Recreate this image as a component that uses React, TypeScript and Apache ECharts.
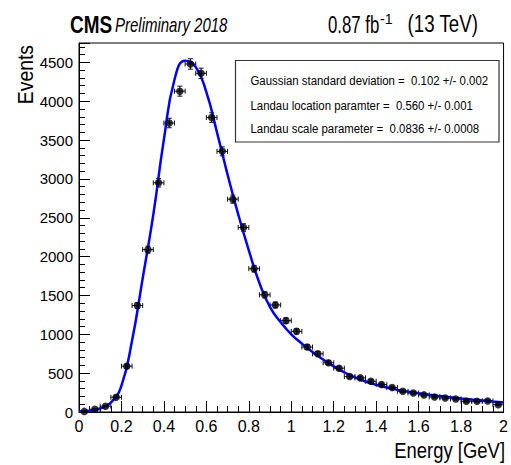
import React, { useEffect, useRef } from "react";
import * as echarts from "echarts";

// ---- data ----
const binCenters = [
  0.025, 0.075, 0.125, 0.175, 0.225, 0.275, 0.325, 0.375, 0.425, 0.475,
  0.525, 0.575, 0.625, 0.675, 0.725, 0.775, 0.825, 0.875, 0.925, 0.975,
  1.025, 1.075, 1.125, 1.175, 1.225, 1.275, 1.325, 1.375, 1.425, 1.475,
  1.525, 1.575, 1.625, 1.675, 1.725, 1.775, 1.825, 1.875, 1.925, 1.975,
];
const counts = [
  8, 35, 75, 190, 590, 1370, 2090, 2950, 3720, 4130,
  4480, 4360, 3790, 3355, 2740, 2375, 1845, 1508, 1378, 1176,
  1038, 836, 749, 633, 564, 456, 439, 395, 353, 314,
  267, 245, 220, 194, 181, 168, 138, 138, 142, 94,
];
const binHalfWidth = 0.025;

// fitted curve, every 0.05 GeV
const fitX = [
  0.0, 0.05, 0.1, 0.15, 0.2, 0.25, 0.3, 0.35, 0.4, 0.45,
  0.5, 0.55, 0.6, 0.65, 0.7, 0.75, 0.8, 0.85, 0.9, 0.95,
  1.0, 1.05, 1.1, 1.15, 1.2, 1.25, 1.3, 1.35, 1.4, 1.45,
  1.5, 1.55, 1.6, 1.65, 1.7, 1.75, 1.8, 1.85, 1.9, 1.95, 2.0,
];
const fitY = [
  5, 15, 45, 120, 340, 920, 1720, 2540, 3510, 4280,
  4520, 4440, 4117, 3600, 3055, 2545, 2080, 1660, 1350, 1155,
  1000, 880, 773, 675, 588, 510, 445, 393, 350, 315,
  285, 261, 241, 222, 205, 189, 174, 160, 147, 134, 122,
];

const statLines = [
  "Gaussian standard deviation =  0.102 +/- 0.002",
  "Landau location paramter =  0.560 +/- 0.001",
  "Landau scale parameter =  0.0836 +/- 0.0008",
];

const xTitle = "Energy [GeV]";
const yTitle = "Events";

const FONT = "'Liberation Sans', Arial, Helvetica, sans-serif";

export default function App() {
  const ref = useRef<HTMLDivElement>(null);

  useEffect(() => {
    if (!ref.current) return;
    const chart = echarts.init(ref.current, undefined, { renderer: "svg" });

    const points = binCenters.map((x, i) => [x, counts[i]]);
    const errs = binCenters.map((x, i) => [
      x,
      counts[i],
      binHalfWidth,
      Math.sqrt(counts[i]),
    ]);
    const fit = fitX.map((x, i) => [x, fitY[i]]);

    const txt = (
      text: string,
      x: number,
      y: number,
      size: number,
      sx: number,
      extra: any = {},
      align = "left"
    ) => ({
      type: "text",
      x,
      y,
      scaleX: sx,
      z: 11,
      ...(extra.rotation !== undefined ? { rotation: extra.rotation } : {}),
      style: {
        text,
        fontFamily: FONT,
        fontSize: size,
        fontWeight: extra.fontWeight || "normal",
        fontStyle: extra.fontStyle || "normal",
        fill: "#000",
        align,
        verticalAlign: "middle",
      },
    });

    const option: any = {
      animation: false,
      backgroundColor: "#ffffff",
      grid: {
        left: 79,
        right: 6.5,
        top: 43,
        bottom: 53,
        show: true,
        borderColor: "#000",
        borderWidth: 1,
        backgroundColor: "transparent",
      },
      xAxis: {
        type: "value",
        min: 0,
        max: 2,
        interval: 0.2,
        axisLine: { show: true, onZero: false, lineStyle: { color: "#000", width: 1 } },
        axisTick: { show: true, inside: true, length: 11, lineStyle: { color: "#000" } },
        minorTick: { show: true, splitNumber: 4, length: 6, lineStyle: { color: "#000" } },
        splitLine: { show: false },
        axisLabel: {
          color: "#000",
          fontFamily: FONT,
          fontSize: 16,
          margin: 6,
          formatter: (v: number) => String(Math.round(v * 10) / 10),
        },
      },
      yAxis: {
        type: "value",
        min: 0,
        max: 4750,
        interval: 500,
        axisLine: { show: true, onZero: false, lineStyle: { color: "#000", width: 1 } },
        axisTick: { show: true, inside: true, length: 11, lineStyle: { color: "#000" } },
        minorTick: { show: true, splitNumber: 5, length: 6, lineStyle: { color: "#000" } },
        splitLine: { show: false },
        axisLabel: {
          color: "#000",
          fontFamily: FONT,
          fontSize: 15,
          margin: 6,
          showMaxLabel: false,
          formatter: (v: number) => String(v),
        },
      },
      series: [
        {
          type: "custom",
          name: "errors",
          clip: true,
          z: 3,
          data: errs,
          renderItem: (params: any, api: any) => {
            const x = api.value(0);
            const y = api.value(1);
            const ex = api.value(2);
            const ey = api.value(3);
            const pl = api.coord([x - ex, y]);
            const pr = api.coord([x + ex, y]);
            const pt = api.coord([x, y + ey]);
            const pb = api.coord([x, y - ey]);
            const c = 2.5;
            const st = { stroke: "#111", lineWidth: 1 };
            return {
              type: "group",
              children: [
                { type: "line", shape: { x1: pl[0], y1: pl[1], x2: pr[0], y2: pr[1] }, style: st },
                { type: "line", shape: { x1: pl[0], y1: pl[1] - c, x2: pl[0], y2: pl[1] + c }, style: st },
                { type: "line", shape: { x1: pr[0], y1: pr[1] - c, x2: pr[0], y2: pr[1] + c }, style: st },
                { type: "line", shape: { x1: pt[0], y1: pt[1], x2: pb[0], y2: pb[1] }, style: st },
                { type: "line", shape: { x1: pt[0] - c, y1: pt[1], x2: pt[0] + c, y2: pt[1] }, style: st },
                { type: "line", shape: { x1: pb[0] - c, y1: pb[1], x2: pb[0] + c, y2: pb[1] }, style: st },
              ],
            };
          },
        },
        {
          type: "line",
          name: "fit",
          data: fit,
          smooth: 0.5,
          showSymbol: false,
          clip: true,
          z: 4,
          lineStyle: { color: "#0000ff", width: 2.5 },
        },
        {
          type: "scatter",
          name: "data",
          data: points,
          symbol: "circle",
          symbolSize: 7.5,
          z: 5,
          itemStyle: { color: "#000" },
        },
      ],
      graphic: [
        txt("CMS", 70, 24.5, 24, 0.79, { fontWeight: "bold" }),
        txt("Preliminary 2018", 115, 25, 20, 0.75, { fontStyle: "italic" }),
        txt("0.87 fb", 328, 24, 24, 0.7),
        txt("-1", 380, 19, 15, 0.95),
        txt("(13 TeV)", 478, 24, 24, 0.78, {}, "right"),
        txt(xTitle, 505, 450, 22.5, 0.82, {}, "right"),
        txt(yTitle, 25.5, 45, 22, 0.88, { rotation: Math.PI / 2 }, "right"),
        {
          type: "rect",
          shape: { x: 235.5, y: 60.5, width: 263.5, height: 81.5 },
          style: { fill: "#fff", stroke: "#333", lineWidth: 1.2 },
          z: 10,
        },
        ...statLines.map((t, i) => txt(t, 250.5, [81, 105.3, 128.3][i], 13.5, 0.845)),
      ],
    };

    chart.setOption(option);
    return () => chart.dispose();
  }, []);

  return (
    <div
      ref={ref}
      style={{ position: "fixed", left: 0, top: 0, width: 511, height: 465, background: "#fff" }}
    />
  );
}
